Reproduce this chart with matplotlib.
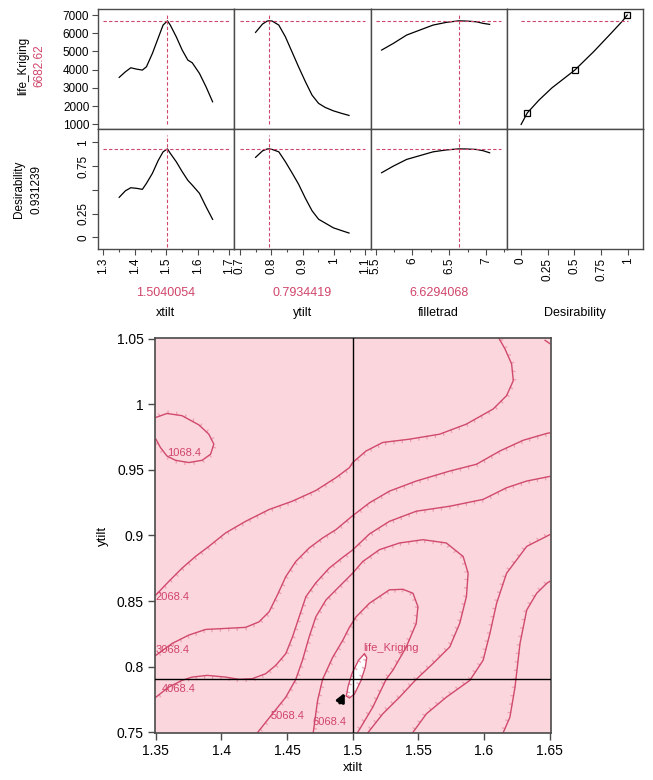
import matplotlib
matplotlib.use("Agg")
import matplotlib.pyplot as plt
import matplotlib.patheffects as pe

plt.rcParams['font.family'] = ['Liberation Sans', 'DejaVu Sans']

# ---- profiler data ----
xtilt_x = [1.35, 1.37, 1.387, 1.405, 1.424, 1.437, 1.456, 1.474, 1.49, 1.504, 1.513, 1.532, 1.551, 1.569, 1.583, 1.606, 1.627, 1.648]
life_xtilt = [3577, 3885, 4105, 4033, 3978, 4160, 4895, 5720, 6450, 6683, 6450, 5808, 5077, 4527, 4380, 3797, 3060, 2236]
desir_xtilt = [0.421, 0.49, 0.522, 0.516, 0.505, 0.568, 0.674, 0.806, 0.90, 0.931, 0.884, 0.796, 0.691, 0.60, 0.55, 0.463, 0.322, 0.189]

ytilt_x = [0.75, 0.772, 0.787, 0.7934, 0.803, 0.824, 0.845, 0.866, 0.887, 0.909, 0.93, 0.951, 0.972, 0.998, 1.025, 1.048]
life_ytilt = [6049, 6505, 6670, 6683, 6670, 6450, 5808, 4984, 4160, 3335, 2604, 2148, 1928, 1741, 1598, 1488]
desir_ytilt = [0.842, 0.91, 0.93, 0.931, 0.925, 0.90, 0.796, 0.68, 0.56, 0.41, 0.28, 0.19, 0.15, 0.10, 0.07, 0.045]

fillet_x = [5.58, 5.74, 5.92, 6.10, 6.28, 6.46, 6.629, 6.73, 6.87, 6.96, 7.05]
life_fillet = [5077, 5445, 5901, 6176, 6450, 6598, 6683, 6670, 6632, 6544, 6489]
desir_fillet = [0.68, 0.75, 0.82, 0.86, 0.90, 0.92, 0.931, 0.93, 0.925, 0.912, 0.89]

desir_curve_x = [0.004, 0.062, 0.17, 0.29, 0.503, 0.68, 0.84, 0.95, 0.99]
desir_curve_life = [994, 1632, 2330, 3000, 3978, 5000, 6000, 6700, 7000]
desir_knot_x = [0.062, 0.503, 0.99]
desir_knot_life = [1632, 3978, 7000]

factor_names = ["xtilt", "ytilt", "filletrad", "Desirability"]
factor_now = [1.5040054, 0.7934419, 6.6294068]
factor_now_text = ["1.5040054", "0.7934419", "6.6294068"]
life_now, desir_now = 6682.62, 0.931239

# ---- contour profiler data: life_Kriging contours in (xtilt, ytilt) ----
c1068_x = [1.3502, 1.3586, 1.3701, 1.3829, 1.3905, 1.3943, 1.3918, 1.3854, 1.3752, 1.3651, 1.3586, 1.3536, 1.3502]
c1068_y = [0.990, 0.993, 0.9913, 0.9843, 0.9772, 0.9696, 0.9619, 0.9573, 0.9556, 0.9573, 0.9606, 0.9671, 0.9734]

c2068_x = [1.3502, 1.3599, 1.3701, 1.3803, 1.3905, 1.4033, 1.4185, 1.4364, 1.4542, 1.472, 1.4873, 1.4975, 1.5,
           1.5102, 1.5229, 1.5433, 1.5662, 1.5866, 1.607, 1.6172, 1.6223, 1.621, 1.6159, 1.6108]
c2068_y = [0.8547, 0.8649, 0.8751, 0.884, 0.8917, 0.902, 0.9108, 0.9198, 0.9262, 0.9343, 0.9441, 0.9517, 0.9556,
           0.9644, 0.9709, 0.9734, 0.9772, 0.9849, 0.9964, 1.0066, 1.018, 1.0308, 1.0423, 1.0513]

c3068a_x = [1.3502, 1.3625, 1.3752, 1.388, 1.4033, 1.4185, 1.4287, 1.4364, 1.4427, 1.4491, 1.4567, 1.4669, 1.4771,
            1.4873, 1.4995, 1.5128, 1.528, 1.5484, 1.5739, 1.5943, 1.6121, 1.6299, 1.6478, 1.65]
c3068a_y = [0.8087, 0.8177, 0.8241, 0.8284, 0.8292, 0.830, 0.8342, 0.8419, 0.8547, 0.8687, 0.8802, 0.8905, 0.8981,
            0.9045, 0.9147, 0.9249, 0.9338, 0.9415, 0.9491, 0.9543, 0.9644, 0.9726, 0.9778, 0.9782]
c3068b_x = [1.6147, 1.6197, 1.6236, 1.6274, 1.6325, 1.6401, 1.6478, 1.65]
c3068b_y = [0.75, 0.7615, 0.7845, 0.8177, 0.8432, 0.856, 0.8636, 0.865]
c3068c_x = [1.6465, 1.65]
c3068c_y = [1.0487, 1.0463]

c4068a_x = [1.3502, 1.3599, 1.3701, 1.3777, 1.3892, 1.4033, 1.4134, 1.4236, 1.4338, 1.4415, 1.4491, 1.4542, 1.4593,
            1.4644, 1.472, 1.482, 1.492, 1.5, 1.5128, 1.528, 1.5484, 1.5739, 1.5993, 1.6172, 1.6325, 1.65]
c4068a_y = [0.7768, 0.7845, 0.7896, 0.7921, 0.7934, 0.7921, 0.7904, 0.7909, 0.7947, 0.8011, 0.81, 0.8228, 0.8381,
            0.8534, 0.864, 0.875, 0.883, 0.889, 0.9012, 0.9108, 0.9185, 0.9223, 0.9275, 0.9364, 0.9415, 0.945]
c4068b_x = [1.5459, 1.5561, 1.5713, 1.5892, 1.5993, 1.6045, 1.6096, 1.6172, 1.6249, 1.6325, 1.65]
c4068b_y = [0.75, 0.7641, 0.7768, 0.7896, 0.8049, 0.8254, 0.8484, 0.8713, 0.8815, 0.8917, 0.9006]

c5068_x = [1.4277, 1.4389, 1.4491, 1.4567, 1.4618, 1.4669, 1.472, 1.4797, 1.4898, 1.5, 1.5077, 1.5204, 1.5357,
           1.5535, 1.5713, 1.5841, 1.5879, 1.5866, 1.5815, 1.5739, 1.5611, 1.5484, 1.5357, 1.5229, 1.5118]
c5068_y = [0.75, 0.7641, 0.7768, 0.7904, 0.805, 0.8228, 0.8381, 0.8509, 0.8611, 0.8713, 0.8802, 0.8892, 0.8943,
           0.8968, 0.8943, 0.884, 0.8713, 0.8534, 0.833, 0.8151, 0.8024, 0.7904, 0.7768, 0.7641, 0.75]

c6068_x = [1.47, 1.4733, 1.4771, 1.4847, 1.4924, 1.4975, 1.5026, 1.5128, 1.528, 1.5383, 1.5459, 1.5497, 1.5484,
           1.5408, 1.5306, 1.5255, 1.5153, 1.5077, 1.5038]
c6068_y = [0.75, 0.7743, 0.7904, 0.807, 0.820, 0.830, 0.838, 0.8484, 0.8586, 0.859, 0.856, 0.8458, 0.833,
           0.815, 0.7973, 0.7904, 0.7692, 0.7564, 0.75]

cnow_x = [1.4952, 1.4965, 1.4995, 1.5045, 1.509, 1.5107, 1.5097, 1.5064, 1.5013, 1.4975, 1.4952]
cnow_y = [0.7778, 0.785, 0.795, 0.805, 0.810, 0.807, 0.800, 0.7896, 0.779, 0.7762, 0.7778]

contour_labels = ["1068.4", "2068.4", "3068.4", "4068.4", "5068.4", "6068.4", "life_Kriging"]
contour_label_x = [1.3586, 1.3502, 1.3502, 1.3548, 1.4376, 1.4694, 1.5082]
contour_label_y = [0.9632, 0.8534, 0.8126, 0.7832, 0.7628, 0.7577, 0.8146]
cross_x, cross_y = 1.5, 0.7905

RED = '#d0456a'
LINE = '#d04a6c'
TICK = '#eba0b0'
PINK = '#fcd6dd'
SPINE = '#4a4a4a'

fig = plt.figure(figsize=(6.53, 7.80), dpi=100)

# ---------------- prediction profiler ----------------
col_x = [xtilt_x, ytilt_x, fillet_x, desir_curve_x]
col_top = [life_xtilt, life_ytilt, life_fillet, desir_curve_life]
col_bot = [desir_xtilt, desir_ytilt, desir_fillet, None]
col_lim = [(1.2815, 1.7165), (0.6815, 1.1165), (5.429, 7.285), (-0.128, 1.14)]
col_major = [[1.3, 1.4, 1.5, 1.6, 1.7], [0.7, 0.8, 0.9, 1.0, 1.1], [5.5, 6, 6.5, 7], [0, 0.25, 0.5, 0.75, 1]]
col_major_lbl = [["1.3", "1.4", "1.5", "1.6", "1.7"], ["0.7", "0.8", "0.9", "1", "1.1"],
                 ["5.5", "6", "6.5", "7"], ["0", "0.25", "0.5", "0.75", "1"]]
col_minor = [[1.35, 1.45, 1.55, 1.65], [0.75, 0.85, 0.95, 1.05], [5.75, 6.25, 6.75, 7.25], []]
col_hspan = [(1.3, 1.7), (0.7, 1.1), (5.5, 7.2), (0, 1)]

left0, pw = 0.1496, 0.2089
top_b, bot_b, ph = 0.8342, 0.6804, 0.1538
dash = dict(color=RED, lw=0.8, dashes=(3, 2))

for c in range(4):
    for r in range(2):
        ax = fig.add_axes([left0 + c * pw, top_b if r == 0 else bot_b, pw, ph])
        for s in ax.spines.values():
            s.set_color(SPINE)
            s.set_linewidth(1.0)
        ax.set_xlim(*col_lim[c])
        if r == 0:
            ax.set_ylim(725, 7313)
        else:
            ax.set_ylim(-0.126, 1.137)
        ax.tick_params(direction='out', length=4, width=0.8, color=SPINE, labelsize=8.5, pad=2)
        ax.tick_params(which='minor', direction='out', length=2.5, width=0.8, color=SPINE)

        if c == 0:
            if r == 0:
                ax.set_yticks([1000, 2000, 3000, 4000, 5000, 6000, 7000])
            else:
                ax.set_yticks([0, 0.25, 0.5, 0.75, 1])
                ax.set_yticklabels(["0", "0.25", "", "0.75", "1"], rotation=90, va='center')
        else:
            ax.set_yticks([])

        if r == 1:
            ax.set_xticks(col_major[c])
            ax.set_xticklabels(col_major_lbl[c], rotation=90)
            ax.set_xticks(col_minor[c], minor=True)
        else:
            ax.set_xticks([])

        if c == 3 and r == 1:
            continue

        if r == 0:
            ax.plot(col_x[c], col_top[c], color='black', lw=0.9)
            ax.plot(col_hspan[c], [life_now, life_now], **dash)
            if c < 3:
                ax.plot([factor_now[c]] * 2, [1000, 7000], **dash)
            else:
                ax.plot(desir_knot_x, desir_knot_life, 's', mfc='none', mec='black', ms=4, mew=0.9)
        else:
            ax.plot(col_x[c], col_bot[c], color='black', lw=0.9)
            ax.plot(col_hspan[c], [desir_now, desir_now], **dash)
            ax.plot([factor_now[c]] * 2, [-0.1, 1.08], **dash)

# profiler labels
fig.text(23 / 653, 1 - 66 / 780, "life_Kriging", rotation=90, ha='center', va='center', fontsize=8.5)
fig.text(39.5 / 653, 1 - 66 / 780, f"{life_now}", rotation=90, ha='center', va='center', fontsize=8.5, color=RED)
fig.text(18.5 / 653, 1 - 189 / 780, "Desirability", rotation=90, ha='center', va='center', fontsize=8.5)
fig.text(37 / 653, 1 - 189 / 780, f"{desir_now}", rotation=90, ha='center', va='center', fontsize=8.5)
for c in range(4):
    cx = (left0 + (c + 0.5) * pw)
    if c < 3:
        fig.text(cx, 1 - 293 / 780, factor_now_text[c], ha='center', va='center', fontsize=9, color=RED)
    fig.text(cx, 1 - 313 / 780, factor_names[c], ha='center', va='center', fontsize=9)

# ---------------- contour profiler ----------------
cax = fig.add_axes([155 / 653, 1 - 733 / 780, 396 / 653, 395 / 780])
cax.set_facecolor(PINK)
cax.set_xlim(1.3495, 1.651)
cax.set_ylim(0.7495, 1.0505)
for s in cax.spines.values():
    s.set_color(SPINE)
    s.set_linewidth(1.2)

cax.fill(cnow_x, cnow_y, color='white', zorder=1)


def ticked(angle):
    return [pe.TickedStroke(spacing=6, angle=angle, length=0.3, foreground=TICK, linewidth=0.9), pe.Normal()]


# angle sign puts the tick marks on the higher-valued side of each line
contour_lines = [
    (c1068_x, c1068_y, 100),
    (c2068_x, c2068_y, -100),
    (c3068a_x, c3068a_y, -100),
    (c3068b_x, c3068b_y, 100),
    (c4068a_x, c4068a_y, -100),
    (c4068b_x, c4068b_y, 100),
    (c5068_x, c5068_y, -100),
    (c6068_x, c6068_y, -100),
    (cnow_x, cnow_y, -100),
]
for xs, ys, ang in contour_lines:
    cax.plot(xs, ys, color=LINE, lw=1.0, zorder=2, path_effects=ticked(ang))
cax.plot(c3068c_x, c3068c_y, color=LINE, lw=1.0, zorder=2)

for txt, tx, ty in zip(contour_labels, contour_label_x, contour_label_y):
    cax.text(tx, ty, txt, color=RED, fontsize=8, ha='left', va='center', zorder=3)

cax.axvline(cross_x, color='black', lw=1.0, zorder=4)
cax.axhline(cross_y, color='black', lw=1.0, zorder=4)

# mouse pointer
cax.annotate('', xy=(1.4949, 0.782), xytext=(1.4893, 0.7705),
             arrowprops=dict(arrowstyle='-|>', color='black', lw=2.2, mutation_scale=12), zorder=5)

cax.set_xticks([1.35, 1.4, 1.45, 1.5, 1.55, 1.6, 1.65])
cax.set_xticklabels(["1.35", "1.4", "1.45", "1.5", "1.55", "1.6", "1.65"])
cax.set_yticks([0.75, 0.8, 0.85, 0.9, 0.95, 1.0, 1.05])
cax.set_yticklabels(["0.75", "0.8", "0.85", "0.9", "0.95", "1", "1.05"])
cax.tick_params(direction='out', length=5, width=1.0, color=SPINE, labelsize=10, pad=3)
cax.set_xlabel("xtilt", fontsize=9.5, labelpad=3)
cax.set_ylabel("ytilt", fontsize=9.5, labelpad=6)

fig.savefig("out.png", dpi=100)
